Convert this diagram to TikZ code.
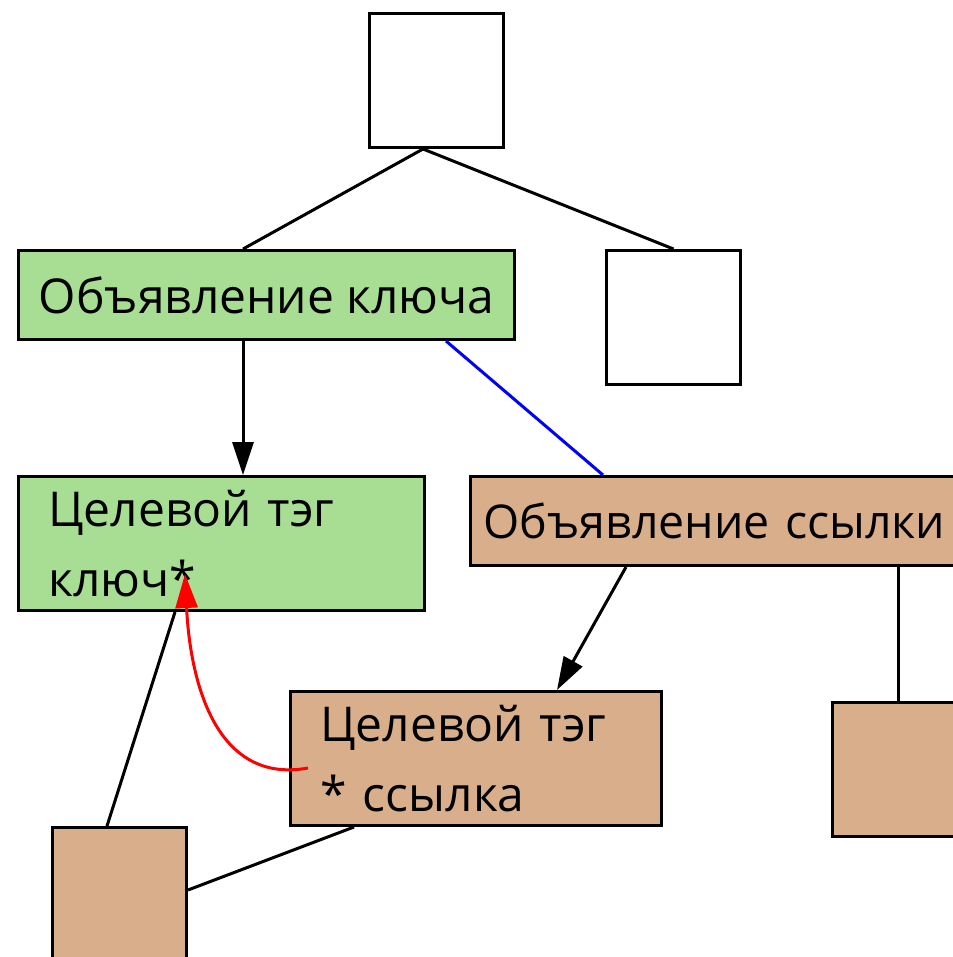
\documentclass[tikz,border=0pt]{standalone}
\usepackage{fontspec}
\setmainfont{Open Sans}
\usetikzlibrary{arrows.meta}
\definecolor{keygreen}{HTML}{A8DE93}
\definecolor{reftan}{HTML}{D9AF8B}
\begin{document}
\begin{tikzpicture}[x=1pt,y=-1pt,
  box/.style={draw=black, line width=3pt, rectangle, inner sep=0pt, anchor=north west,
    font=\fontsize{48}{70}\selectfont},
  twoline/.style={align=left, text width=#1, inner xsep=30pt},
  edge/.style={line width=3pt, black},
  arr/.style={edge, -{Triangle[length=33pt,width=21pt]}}]
\useasboundingbox (0,0) rectangle (952,957);
\node[box, fill=white, minimum width=134pt, minimum height=134pt] (root) at (368,12) {};
\node[box, fill=white, minimum width=134pt, minimum height=134pt] (other) at (605,249) {};
\node[box, fill=keygreen, minimum width=496pt, minimum height=89pt] (keydecl) at (17,249) {Объявление ключа};
\node[box, fill=keygreen, twoline=346pt, minimum width=406pt, minimum height=134pt] (keytgt) at (17,475) {Целевой тэг\\ключ*};
\node[box, fill=reftan, minimum width=494pt, minimum height=89pt, align=left, text width=468pt, inner xsep=13pt,
  font=\fontsize{46.5}{70}\selectfont] (refdecl) at (469,475) {Объявление ссылки};
\node[box, fill=reftan, twoline=311pt, minimum width=371pt, minimum height=134pt] (reftgt) at (289,690) {Целевой тэг\\{}* ссылка};
\node[box, fill=reftan, minimum width=134pt, minimum height=150pt] (leafa) at (51,826) {};
\node[box, fill=reftan, minimum width=134pt, minimum height=134pt] (leafb) at (831,701) {};
% connectors
\draw[edge] ([xshift=55pt]root.south west) -- ([xshift=226pt]keydecl.north west);
\draw[edge] ([xshift=55pt]root.south west) -- (other.north);
\draw[arr] ([xshift=226pt]keydecl.south west) -- ([xshift=226pt]keytgt.north west);
\draw[edge, blue] ([xshift=429pt]keydecl.south west) -- ([xshift=134pt]refdecl.north west);
\draw[arr] ([xshift=157pt]refdecl.south west) -- ([xshift=268pt]reftgt.north west);
\draw[edge] ([xshift=429pt]refdecl.south west) -- ([xshift=67pt]leafb.north west);
\draw[edge] ([xshift=158pt]keytgt.south west) -- ([xshift=56pt]leafa.north west);
\draw[edge] ([xshift=65pt]reftgt.south west) -- ([yshift=-64pt]leafa.north east);
\draw[edge, red, -{Triangle[length=34pt,width=22pt]}] ([xshift=19pt,yshift=-78pt]reftgt.north west)
  .. controls (215,785) and (190,680) .. ([xshift=168pt,yshift=-99pt]keytgt.north west);
\end{tikzpicture}
\end{document}
